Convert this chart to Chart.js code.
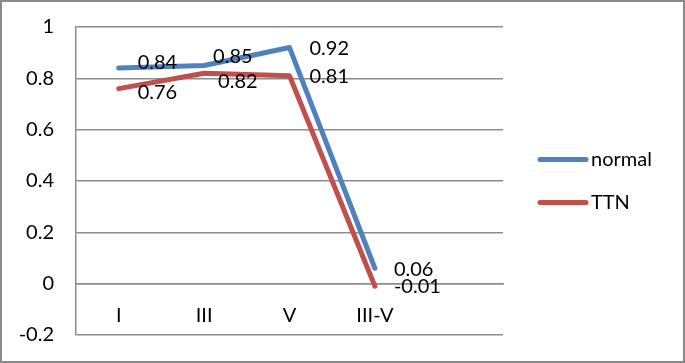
<!DOCTYPE html>
<html>
<head>
<meta charset="utf-8">
<script src="https://cdn.jsdelivr.net/npm/chart.js@4/dist/chart.umd.min.js"></script>
<style>
  html, body { margin: 0; padding: 0; background: #fff; }
  #wrap { width: 685px; height: 363px; box-sizing: border-box; border: 2px solid #8a8a8a; position: relative; }
  canvas { display: block; }
</style>
</head>
<body>
<div id="wrap"><canvas id="chart"></canvas></div>
<script>
// categories (last one is an empty slot, as in the original sheet)
const categorias = ['I', 'III', 'V', 'III-V', ''];
const normal = [0.84, 0.85, 0.92, 0.06];
const ttn = [0.76, 0.82, 0.81, -0.01];
const yTicks = [-0.2, 0, 0.2, 0.4, 0.6, 0.8, 1];

const azul = '#4f81bd';
const rojo = '#c0504d';
const gris = '#8c8c8c';
const fuente = 'Lato, "Open Sans", sans-serif';

// label offsets next to each point [dx, dy] per series
const offsetsLabels = [
    [[19, -6], [9, -9], [20, 1], [19, 1]],
    [[19, 4], [14, 8], [20, 1], [19, 0]]
];

const pluginLabels = {
    id: 'labels',
    afterDatasetsDraw(chart) {
        const ctx = chart.ctx;
        ctx.save();
        ctx.font = '20px ' + fuente;
        ctx.fillStyle = '#000';
        ctx.textAlign = 'left';
        ctx.textBaseline = 'middle';
        chart.data.datasets.forEach((ds, d) => {
            const meta = chart.getDatasetMeta(d);
            meta.data.forEach((pt, i) => {
                const off = offsetsLabels[d][i];
                ctx.fillText(String(ds.data[i]), pt.x + off[0], pt.y + off[1]);
            });
        });
        ctx.restore();
    }
};

const pluginLegend = {
    id: 'miLeyenda',
    afterDraw(chart) {
        const ctx = chart.ctx;
        const area = chart.chartArea;
        const mid = (area.top + area.bottom) / 2;
        const x0 = area.right + 35;
        ctx.save();
        ctx.font = '20px ' + fuente;
        ctx.textBaseline = 'middle';
        ctx.lineCap = 'round';
        chart.data.datasets.forEach((ds, d) => {
            const y = mid - 21.5 + d * 43;
            ctx.strokeStyle = ds.borderColor;
            ctx.lineWidth = 5;
            ctx.beginPath();
            ctx.moveTo(x0 + 2, y);
            ctx.lineTo(x0 + 48, y);
            ctx.stroke();
            ctx.fillStyle = '#000';
            ctx.fillText(ds.label, x0 + 53, y);
        });
        ctx.restore();
    }
};

const dataChart = {
    labels: categorias,
    datasets: [
        { label: 'normal', data: normal, borderColor: azul, backgroundColor: azul },
        { label: 'TTN', data: ttn, borderColor: rojo, backgroundColor: rojo }
    ]
};

const config = {
    type: 'line',
    data: dataChart,
    options: {
        responsive: false,
        animation: false,
        layout: { padding: { top: 25, right: 180, bottom: 26, left: 0 } },
        elements: {
            line: { borderWidth: 5, tension: 0, borderCapStyle: 'round', borderJoinStyle: 'round' },
            point: { radius: 0, hoverRadius: 0 }
        },
        plugins: {
            legend: { display: false },
            tooltip: { enabled: false }
        },
        scales: {
            x: {
                position: { y: 0 },
                offset: true,
                afterFit(scale) { scale.paddingLeft = 0; scale.paddingRight = 0; },
                grid: { display: false, drawTicks: false },
                border: { color: gris, width: 1.5 },
                ticks: { color: '#000', font: { size: 20, family: fuente }, padding: 20, maxRotation: 0, autoSkip: false }
            },
            y: {
                min: -0.2,
                max: 1,
                afterBuildTicks(scale) { scale.ticks = yTicks.map(v => ({ value: v })); },
                afterFit(scale) {
                    scale.width = 74;
                    scale.paddingTop = 0;
                    scale.paddingBottom = 0;
                },
                grid: { color: gris, lineWidth: 1.5, drawTicks: false },
                border: { color: gris, width: 1.5 },
                ticks: {
                    color: '#000',
                    font: { size: 20, family: fuente },
                    padding: 22,
                    callback: v => String(+v.toFixed(1))
                }
            }
        }
    },
    plugins: [pluginLabels, pluginLegend]
};

const canvas = document.getElementById('chart');
canvas.width = 681;
canvas.height = 359;
const myChart = new Chart(canvas, config);
</script>
</body>
</html>
